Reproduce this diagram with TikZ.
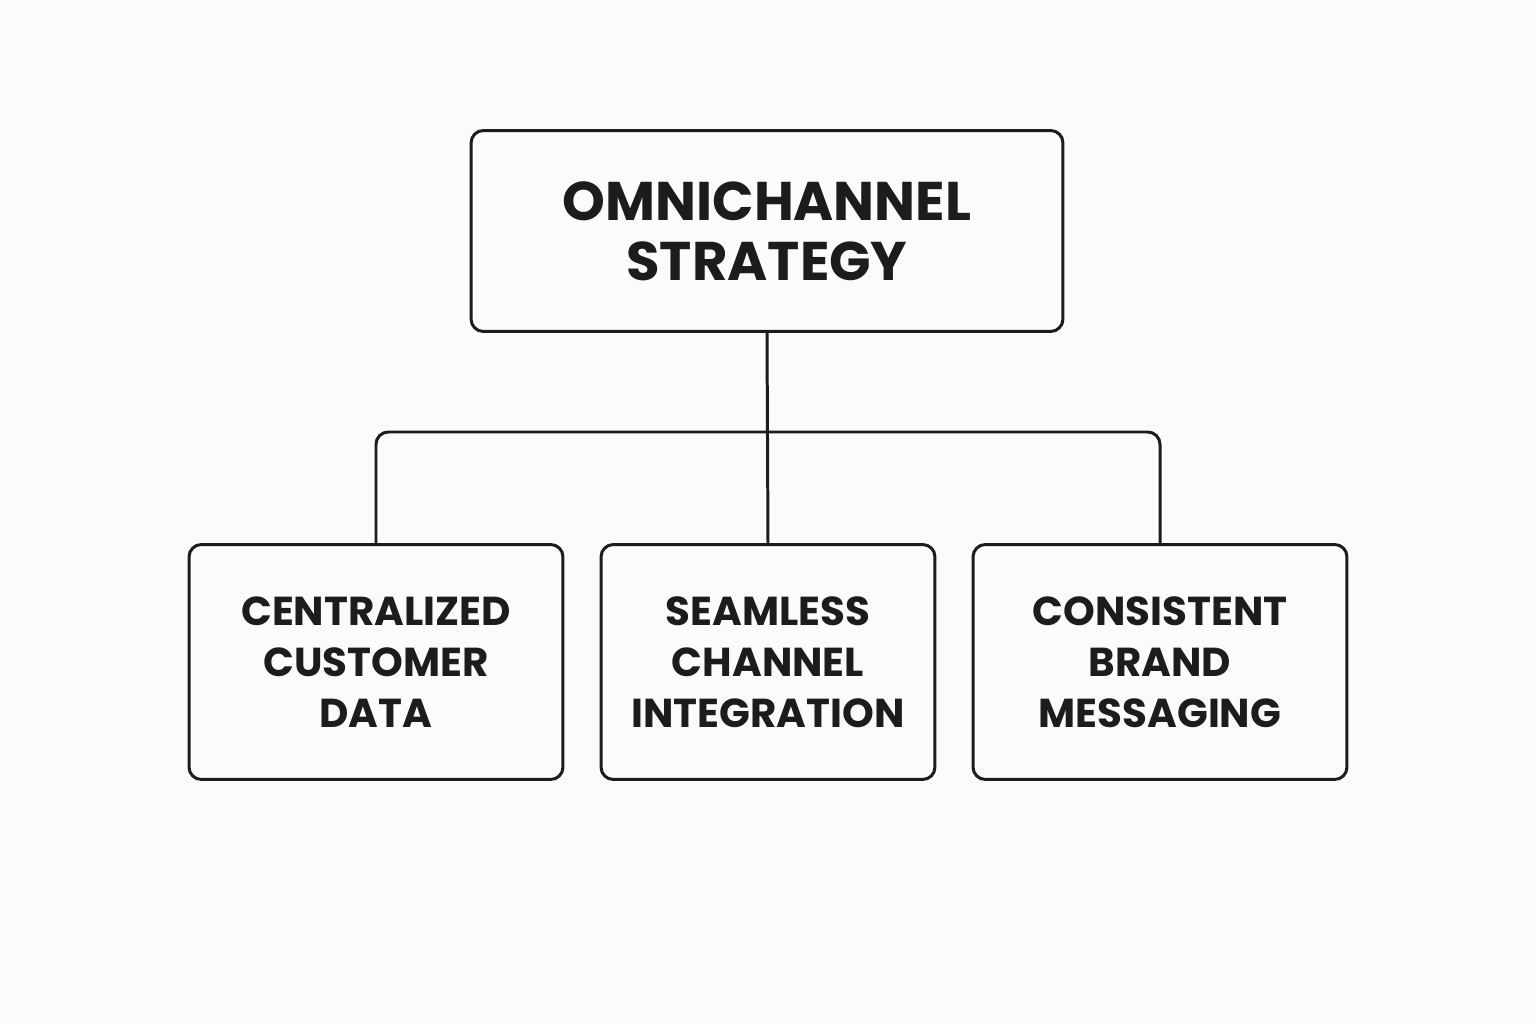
\documentclass[tikz,border=0pt]{standalone}
\usepackage{fontspec}
\setmainfont{Poppins}
\usepackage{tikz}
\usetikzlibrary{positioning}
\definecolor{bgcol}{RGB}{252,251,249}
\definecolor{inkcol}{RGB}{28,28,28}
\tikzset{
  box/.style={draw=inkcol,line width=1.7pt,rounded corners=7pt,align=center,text=inkcol,font=\bfseries},
  link/.style={draw=inkcol,line width=1.7pt,rounded corners=7pt}
}
\begin{document}
\begin{tikzpicture}[x=0.02cm,y=-0.02cm]
\fill[bgcol] (0,0) rectangle (1536,1024);
\useasboundingbox (0,0) rectangle (1536,1024);
% root
\node[box,minimum width=11.84cm,minimum height=4.02cm,font=\fontsize{31}{34}\bfseries\selectfont] (S) at (767,231) {OMNICHANNEL\\STRATEGY};
% leaves
\node[box,minimum width=7.48cm,minimum height=4.7cm,font=\fontsize{23}{29}\bfseries\selectfont] (D) at (376,662) {CENTRALIZED\\CUSTOMER\\DATA};
\node[box,minimum width=6.68cm,minimum height=4.7cm,font=\fontsize{23}{29}\bfseries\selectfont] (C) at (768,662) {SEAMLESS\\CHANNEL\\INTEGRATION};
\node[box,minimum width=7.48cm,minimum height=4.7cm,font=\fontsize{23}{29}\bfseries\selectfont] (B) at (1160,662) {CONSISTENT\\BRAND\\MESSAGING};
\coordinate (J) at (767,432);
\draw[link] (S.south) -- (C.north);
\draw[link] (D.north) |- (J) -| (B.north);
\end{tikzpicture}
\end{document}
